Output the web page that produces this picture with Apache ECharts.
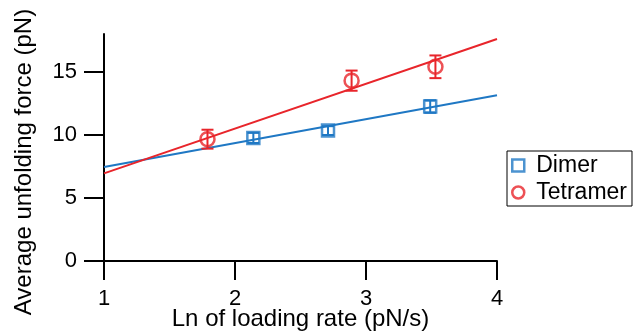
<!DOCTYPE html>
<html>
<head>
<meta charset="utf-8">
<script src="https://cdn.jsdelivr.net/npm/echarts@6/dist/echarts.min.js"></script>
<style>html,body{margin:0;padding:0;background:#fff;}#c{width:634px;height:335px;}</style>
</head>
<body>
<div id="c"></div>
<script>
// Data
const dimerX = [2.14, 2.71, 3.49];
const dimerY = [9.76, 10.34, 12.25];
const dimerErr = [0.4, 0.35, 0.5];
const tetramerX = [1.79, 2.89, 3.53];
const tetramerY = [9.66, 14.3, 15.4];
const tetramerErr = [0.75, 0.8, 0.9];
const fitX = [1, 4];
const dimerFit = [7.45, 13.15];
const tetramerFit = [6.95, 17.6];
const xTicks = [1, 2, 3, 4];
const yTicks = [0, 5, 10, 15];
const seriesNames = ['Dimer', 'Tetramer'];

const BLUE = '#1f78c4';
const RED = '#e8252b';
const FONT = 'Liberation Sans, Arial, sans-serif';

function pairs(xs, ys) { return xs.map((x, i) => [x, ys[i]]); }
function errData(xs, ys, es) { return xs.map((x, i) => [x, ys[i] - es[i], ys[i] + es[i]]); }
function errSeries(data, color) {
  return {
    type: 'custom', silent: true, z: 3,
    data: data,
    renderItem: function (params, api) {
      const x = api.value(0);
      const lo = api.coord([x, api.value(1)]);
      const hi = api.coord([x, api.value(2)]);
      const hw = 6;
      const st = { stroke: color, lineWidth: 2, fill: null };
      return { type: 'group', children: [
        { type: 'line', shape: { x1: lo[0], y1: lo[1], x2: hi[0], y2: hi[1] }, style: st },
        { type: 'line', shape: { x1: lo[0] - hw, y1: lo[1], x2: lo[0] + hw, y2: lo[1] }, style: st },
        { type: 'line', shape: { x1: hi[0] - hw, y1: hi[1], x2: hi[0] + hw, y2: hi[1] }, style: st }
      ]};
    }
  };
}

const chart = echarts.init(document.getElementById('c'), null, { renderer: 'canvas' });
chart.setOption({
  backgroundColor: '#fff',
  animation: false,
  grid: { left: 104, right: 137, top: 34, bottom: 74, containLabel: false, outerBoundsMode: 'none' },
  xAxis: {
    type: 'value', min: 1, max: 4, interval: 1,
    name: 'Ln of loading rate (pN/s)', nameLocation: 'middle', nameGap: 46, nameMoveOverlap: false,
    nameTextStyle: { fontFamily: FONT, fontSize: 24, color: '#000', verticalAlign: 'top' },
    axisLine: { onZero: false, lineStyle: { color: '#000', width: 2 } },
    axisTick: { show: true, length: 19, lineStyle: { color: '#000', width: 2 }, customValues: xTicks },
    axisLabel: { fontFamily: FONT, fontSize: 22, color: '#000', margin: 27, customValues: xTicks },
    splitLine: { show: false }
  },
  yAxis: {
    type: 'value', min: 0, max: 18,
    axisLine: { show: true, onZero: false, lineStyle: { color: '#000', width: 2 } },
    axisTick: { show: true, length: 20, lineStyle: { color: '#000', width: 2 }, customValues: yTicks },
    axisLabel: { fontFamily: FONT, fontSize: 22, color: '#000', margin: 27, customValues: yTicks },
    splitLine: { show: false }
  },
  graphic: [{
    type: 'text', x: 12, y: 162, rotation: Math.PI / 2,
    style: { text: 'Average unfolding force (pN)', font: '24px ' + FONT, fill: '#000', align: 'center', verticalAlign: 'top' }
  }],
  legend: {
    orient: 'vertical', left: 507, top: 151,
    padding: [3, 5, 2, 4], itemGap: 4, itemWidth: 12, itemHeight: 12,
    borderColor: '#000', borderWidth: 1,
    textStyle: { fontFamily: FONT, fontSize: 23, color: '#000', padding: [0, 0, 0, 7] },
    data: [
      { name: seriesNames[0], icon: 'rect', itemStyle: { color: 'rgba(0,0,0,0)', borderColor: BLUE, borderWidth: 2.5 } },
      { name: seriesNames[1], icon: 'circle', itemStyle: { color: 'rgba(0,0,0,0)', borderColor: RED, borderWidth: 2.5 } }
    ]
  },
  series: [
    { type: 'line', data: pairs(fitX, dimerFit), showSymbol: false, silent: true, z: 2,
      lineStyle: { color: BLUE, width: 2 } },
    { type: 'line', data: pairs(fitX, tetramerFit), showSymbol: false, silent: true, z: 2,
      lineStyle: { color: RED, width: 2 } },
    errSeries(errData(dimerX, dimerY, dimerErr), BLUE),
    errSeries(errData(tetramerX, tetramerY, tetramerErr), RED),
    { name: seriesNames[0], type: 'scatter', data: pairs(dimerX, dimerY), symbol: 'rect', symbolSize: 12, z: 4,
      itemStyle: { color: 'rgba(0,0,0,0)', borderColor: BLUE, borderWidth: 2.5 } },
    { name: seriesNames[1], type: 'scatter', data: pairs(tetramerX, tetramerY), symbol: 'circle', symbolSize: 14, z: 4,
      itemStyle: { color: 'rgba(0,0,0,0)', borderColor: RED, borderWidth: 2.5 } }
  ]
});
</script>
</body>
</html>
